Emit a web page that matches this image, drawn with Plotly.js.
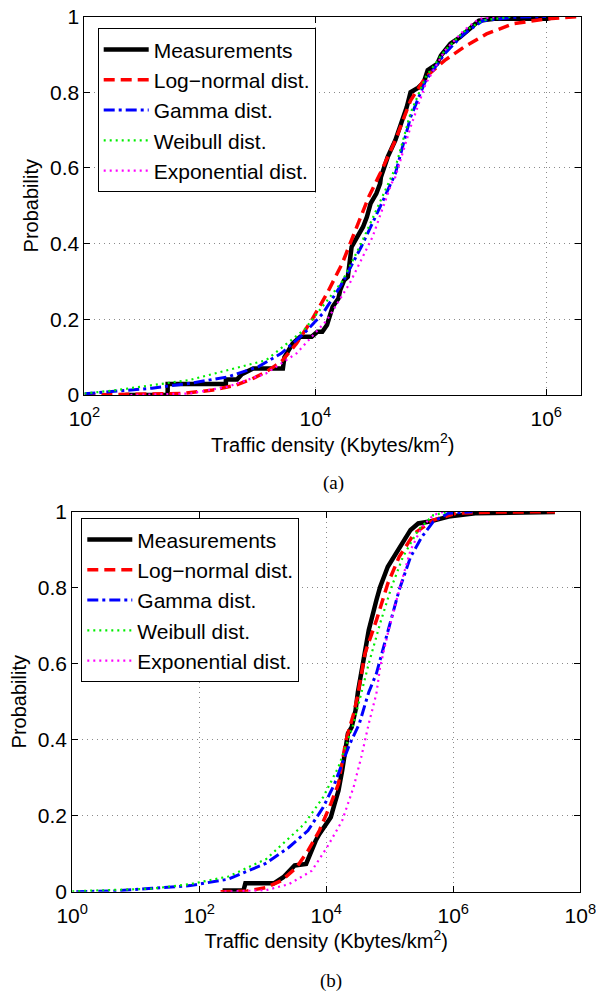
<!DOCTYPE html>
<html>
<head>
<meta charset="utf-8">
<script src="https://cdn.plot.ly/plotly-3.0.1.min.js"></script>
<style>html,body{margin:0;padding:0;background:#fff;}#chart{width:596px;height:994px;}</style>
</head>
<body>
<div id="chart"></div>
<script>
// ---------- Panel (a) ----------
const seriesNames = ["Measurements", "Log\u2212normal dist.", "Gamma dist.", "Weibull dist.", "Exponential dist."];

const aMeasX = [227, 526, 526, 1680, 1680, 2100, 2307, 2897, 5236, 5400, 6368, 7413, 9300, 10420, 11500, 12620, 14130, 15840, 16420, 17740, 19110, 20610, 23080, 25880, 27940, 30130, 33760, 36400, 37000, 42380, 49340, 55320, 61960, 66810, 77860, 87170, 94010, 113600, 122500, 147900, 178700, 216300, 261200, 353800, 1020000, 1190000];
const aMeasY = [0, 0, 0.029, 0.029, 0.041, 0.041, 0.055, 0.07, 0.07, 0.10, 0.136, 0.154, 0.154, 0.167, 0.167, 0.185, 0.233, 0.255, 0.277, 0.303, 0.312, 0.391, 0.418, 0.444, 0.47, 0.506, 0.532, 0.559, 0.576, 0.629, 0.673, 0.717, 0.761, 0.80, 0.812, 0.827, 0.858, 0.875, 0.897, 0.928, 0.945, 0.967, 0.989, 0.994, 0.994, 1.0];

const aLogNX = [100, 154, 706, 1297, 2046, 2768, 3745, 5078, 6875, 9300, 12620, 17070, 23080, 28970, 36400, 49340, 66810, 90380, 132100, 193200, 304100, 517400, 1020000, 2020000];
const aLogNY = [0, 0.001, 0.004, 0.013, 0.026, 0.041, 0.061, 0.088, 0.136, 0.198, 0.268, 0.347, 0.444, 0.523, 0.585, 0.673, 0.778, 0.84, 0.884, 0.919, 0.954, 0.981, 0.994, 1.0];

const aGammaX = [100, 181, 385, 824, 1754, 3223, 5078, 8004, 11660, 17070, 24940, 36400, 49340, 66810, 90380, 132100, 193200, 281800, 517400, 1000000];
const aGammaY = [0.003, 0.009, 0.018, 0.031, 0.048, 0.075, 0.11, 0.163, 0.216, 0.295, 0.391, 0.497, 0.585, 0.734, 0.831, 0.902, 0.954, 0.989, 0.998, 1.0];

const aWeibX = [100, 181, 824, 3745, 8004, 17070, 24940, 36400, 49340, 66810, 90380, 132100, 193200, 281800, 517400];
const aWeibY = [0.004, 0.012, 0.04, 0.092, 0.172, 0.30, 0.40, 0.51, 0.60, 0.745, 0.84, 0.91, 0.96, 0.99, 1.0];

const aExpX = [250, 824, 1754, 3745, 6875, 12620, 19860, 31330, 45700, 49340, 66810, 90380, 132100, 193200, 261200, 400000];
const aExpY = [0, 0.004, 0.022, 0.057, 0.11, 0.198, 0.295, 0.418, 0.559, 0.576, 0.708, 0.822, 0.91, 0.963, 0.994, 1.0];

// ---------- Panel (b) ----------
const bMeasX = [233, 497, 533, 1495, 2108, 2591, 3185, 4816, 5540, 6809, 7805, 9594, 11790, 13520, 15560, 17830, 20440, 21920, 25120, 28900, 31500, 37950, 46660, 61530, 70510, 93100, 140700, 212500, 280500, 423700, 841000, 2210000, 39800000];
const bMeasY = [0.003, 0.003, 0.022, 0.022, 0.038, 0.055, 0.069, 0.073, 0.099, 0.134, 0.152, 0.174, 0.196, 0.231, 0.266, 0.319, 0.376, 0.416, 0.433, 0.477, 0.525, 0.609, 0.688, 0.767, 0.802, 0.855, 0.903, 0.952, 0.969, 0.974, 0.987, 0.996, 0.999];

const bLogNX = [217, 571, 1135, 1973, 3417, 5164, 7805, 11790, 15560, 20440, 26920, 30900, 40740, 61530, 93100, 140700, 243600, 485300, 1110000, 4390000, 40000000];
const bLogNY = [0, 0.002, 0.011, 0.029, 0.064, 0.108, 0.161, 0.231, 0.284, 0.398, 0.468, 0.512, 0.627, 0.714, 0.811, 0.881, 0.943, 0.978, 0.996, 0.999, 1.0];

const bGammaX = [1.16, 4.6, 18.2, 72.4, 287, 1135, 2591, 5164, 8945, 13520, 17830, 23500, 33130, 46660, 61530, 93100, 140700, 212500, 321300, 485300, 841000, 2000000];
const bGammaY = [0, 0.002, 0.009, 0.016, 0.033, 0.075, 0.117, 0.161, 0.222, 0.284, 0.337, 0.389, 0.442, 0.525, 0.574, 0.688, 0.794, 0.881, 0.934, 0.974, 0.996, 1.0];

const bWeibX = [1, 18.2, 72.4, 287, 1135, 4505, 8945, 15560, 26920, 35540, 46660, 70510, 106700, 161200, 280500, 485300, 841000];
const bWeibY = [0.001, 0.008, 0.02, 0.04, 0.086, 0.178, 0.249, 0.328, 0.442, 0.521, 0.60, 0.706, 0.802, 0.881, 0.952, 0.991, 1.0];

const bExpX = [250, 1135, 2591, 5918, 10300, 17830, 26920, 35540, 46660, 61530, 70510, 93100, 140700, 212500, 321300, 485300, 700000];
const bExpY = [0, 0.004, 0.02, 0.055, 0.117, 0.187, 0.275, 0.354, 0.442, 0.521, 0.591, 0.679, 0.794, 0.899, 0.96, 0.991, 1.0];

const yTickVals = [0, 0.2, 0.4, 0.6, 0.8, 1];
const yTickText = ["0", "0.2", "0.4", "0.6", "0.8", "1"];
const aXTickVals = [1e2, 1e4, 1e6];
const aXTickText = ["10<sup>2</sup>", "10<sup>4</sup>", "10<sup>6</sup>"];
const bXTickVals = [1, 1e2, 1e4, 1e6, 1e8];
const bXTickText = ["10<sup>0</sup>", "10<sup>2</sup>", "10<sup>4</sup>", "10<sup>6</sup>", "10<sup>8</sup>"];
const xTitle = "Traffic density (Kbytes/km<sup>2</sup>)";
const yTitle = "Probability";
const captions = ["(a)", "(b)"];

// ---------- styles ----------
const styles = [
  {color: "#000000", width: 4.5, dash: "solid"},
  {color: "#ff0000", width: 3.5, dash: "11px,6px"},
  {color: "#0000ff", width: 3, dash: "11px,4px,3px,4px"},
  {color: "#00ee00", width: 2.2, dash: "2px,4px"},
  {color: "#ff00ff", width: 2.2, dash: "2px,4px"}
];

function makeTraces(xs, ys, xa, ya, leg) {
  return xs.map((x, i) => ({
    x: x, y: ys[i], xaxis: xa, yaxis: ya, type: "scatter", mode: "lines",
    name: seriesNames[i], legend: leg, legendgroup: leg + "g" + i,
    line: {color: styles[i].color, width: styles[i].width, dash: styles[i].dash}
  }));
}

const traces = [].concat(
  makeTraces([aMeasX, aLogNX, aGammaX, aWeibX, aExpX], [aMeasY, aLogNY, aGammaY, aWeibY, aExpY], "x", "y", "legend"),
  makeTraces([bMeasX, bLogNX, bGammaX, bWeibX, bExpX], [bMeasY, bLogNY, bGammaY, bWeibY, bExpY], "x2", "y2", "legend2")
);

const FONT = "Liberation Sans, Arial, Helvetica, sans-serif";
const W = 596, H = 994;

function xAxis(domain, range, anchor, tv, tt) {
  return {
    type: "log", domain: domain, range: range, anchor: anchor,
    tickmode: "array", tickvals: tv, ticktext: tt,
    ticks: "inside", ticklen: 6, tickwidth: 1, tickcolor: "#000",
    ticklabelstandoff: 5, ticklabeloverflow: "allow",
    showline: true, linecolor: "#000", linewidth: 1, mirror: "ticks",
    showgrid: true, gridcolor: "#8a8a8a", gridwidth: 1, griddash: "1px,4px",
    zeroline: false,
    tickfont: {family: FONT, size: 21, color: "#000"},
    title: {text: xTitle, font: {family: FONT, size: 20, color: "#000"}, standoff: 8}
  };
}
function yAxis(domain, anchor) {
  return {
    domain: domain, range: [0, 1], anchor: anchor,
    tickmode: "array", tickvals: yTickVals, ticktext: yTickText,
    ticks: "inside", ticklen: 6, tickwidth: 1, tickcolor: "#000",
    showline: true, linecolor: "#000", linewidth: 1, mirror: "ticks",
    showgrid: true, gridcolor: "#8a8a8a", gridwidth: 1, griddash: "1px,4px",
    zeroline: false,
    tickfont: {family: FONT, size: 21, color: "#000"},
    title: {text: yTitle, font: {family: FONT, size: 20, color: "#000"}, standoff: 5}
  };
}

const legendStyle = (x, y) => ({
  x: x, y: y, xanchor: "left", yanchor: "top", xref: "paper", yref: "paper",
  bgcolor: "#fff", bordercolor: "#000", borderwidth: 1,
  font: {family: FONT, size: 21, color: "#000"},
  itemwidth: 45, tracegroupgap: 0, traceorder: "normal"
});

const layout = {
  width: W, height: H,
  margin: {l: 0, r: 0, t: 0, b: 0},
  paper_bgcolor: "#fff", plot_bgcolor: "#fff",
  showlegend: true,
  xaxis: xAxis([84.4 / W, 581 / W], [2, 6.301], "y", aXTickVals, aXTickText),
  yaxis: yAxis([1 - 395 / H, 1 - 16.5 / H], "x"),
  xaxis2: xAxis([72.2 / W, 580.3 / W], [0, 8], "y2", bXTickVals, bXTickText),
  yaxis2: yAxis([1 - 891.7 / H, 1 - 511.7 / H], "x2"),
  legend: legendStyle(97.7 / W, 1 - 28.3 / H),
  legend2: legendStyle(81.3 / W, 1 - 518.3 / H),
  annotations: [
    {text: captions[0], xref: "paper", yref: "paper", x: 333 / W, y: 1 - 483 / H, showarrow: false,
     xanchor: "center", yanchor: "middle", font: {family: "Liberation Serif, Times New Roman, serif", size: 19, color: "#000"}},
    {text: captions[1], xref: "paper", yref: "paper", x: 331 / W, y: 1 - 981 / H, showarrow: false,
     xanchor: "center", yanchor: "middle", font: {family: "Liberation Serif, Times New Roman, serif", size: 19, color: "#000"}}
  ]
};

Plotly.newPlot("chart", traces, layout, {staticPlot: true, displayModeBar: false});
</script>
</body>
</html>
